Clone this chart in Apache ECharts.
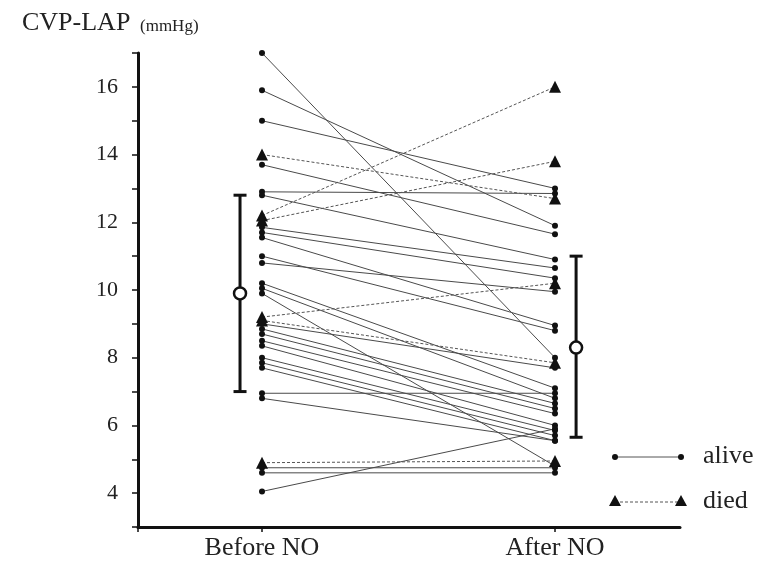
<!DOCTYPE html>
<html><head><meta charset="utf-8">
<script src="https://cdn.jsdelivr.net/npm/echarts@6/dist/echarts.min.js"></script>
<style>html,body{margin:0;padding:0;background:#fff}#c{width:762px;height:561px}</style>
</head><body><div id="c"></div>
<script>
// Categories
const categories = ['Before NO', 'After NO'];
// Patients who survived: [before, after]
const aliveBefore = [17.0, 15.9, 15.0, 13.7, 12.9, 12.8, 11.85, 11.7, 11.55, 11.0, 10.8, 10.2, 10.05, 9.9, 9.0, 8.85, 8.7, 8.5, 8.35, 8.0, 7.85, 7.7, 6.95, 6.8, 4.75, 4.6, 4.05];
const aliveAfter  = [8.0, 11.9, 13.0, 11.65, 12.85, 10.9, 10.65, 10.35, 8.95, 8.8, 9.95, 7.1, 6.8, 4.8, 7.7, 6.65, 6.5, 6.35, 6.0, 5.85, 5.7, 5.55, 6.95, 5.55, 4.75, 4.6, 5.9];
// Patients who died: [before, after]
const diedBefore = [14.0, 12.2, 12.05, 9.2, 9.1, 4.9];
const diedAfter  = [12.7, 16.0, 13.8, 10.2, 7.85, 4.95];
// Mean ± SD
const meanValues = [9.9, 8.3];
const sdLow = [7.0, 5.65];
const sdHigh = [12.8, 11.0];
// Y tick labels
const yTickLabels = [4, 6, 8, 10, 12, 14, 16];

const FONT = 'Liberation Serif';
const series = [];
aliveBefore.forEach((b, i) => {
  series.push({
    type: 'line', data: [[0, b], [1, aliveAfter[i]]],
    symbol: 'circle', symbolSize: 6, showSymbol: true,
    itemStyle: { color: '#111' },
    lineStyle: { color: '#4a4a4a', width: 1 },
    animation: false, silent: true, z: 2
  });
});
diedBefore.forEach((b, i) => {
  series.push({
    type: 'line', data: [[0, b], [1, diedAfter[i]]],
    symbol: 'triangle', symbolSize: 12, showSymbol: true,
    itemStyle: { color: '#111' },
    lineStyle: { color: '#555', width: 1, type: [3, 2] },
    animation: false, silent: true, z: 3
  });
});
const barX = [-0.075, 1.072];
[0, 1].forEach(k => {
  series.push({
    type: 'line', data: [[barX[k], sdLow[k]], [barX[k], sdHigh[k]]],
    symbol: 'rect', symbolSize: [13, 3], showSymbol: true,
    itemStyle: { color: '#111' },
    lineStyle: { color: '#111', width: 3 },
    animation: false, silent: true, z: 4
  });
});
series.push({
  type: 'scatter', data: [[barX[0], meanValues[0]], [barX[1], meanValues[1]]],
  symbol: 'circle', symbolSize: 12,
  itemStyle: { color: '#fff', borderColor: '#111', borderWidth: 2.5, opacity: 1 },
  animation: false, silent: true, z: 5
});

const chart = echarts.init(document.getElementById('c'), null, { renderer: 'canvas' });
chart.setOption({
  backgroundColor: '#fff',
  animation: false,
  grid: { left: 138, right: 82, top: 53, bottom: 34, containLabel: false, outerBoundsMode: 'none' },
  xAxis: {
    type: 'value', min: -124 / 293, max: 1 + 125 / 293,
    splitLine: { show: false },
    axisLine: { onZero: false, lineStyle: { color: '#111', width: 3 } },
    axisTick: { show: true, customValues: [-124 / 293, 0, 1], length: 5, lineStyle: { color: '#111', width: 1.5 } },
    axisLabel: {
      customValues: [0, 1], margin: 8,
      formatter: v => categories[Math.round(v)] || '',
      fontFamily: FONT, fontSize: 26, color: '#222'
    }
  },
  yAxis: {
    type: 'value', min: 3, max: 17, interval: 1,
    splitLine: { show: false },
    axisLine: { show: true, onZero: false, lineStyle: { color: '#111', width: 3 } },
    axisTick: { show: true, length: 6, lineStyle: { color: '#111', width: 1.5 } },
    axisLabel: {
      margin: 20,
      formatter: v => yTickLabels.indexOf(v) >= 0 ? String(v) : '',
      fontFamily: FONT, fontSize: 22, color: '#222'
    }
  },
  series: series,
  graphic: [
    { type: 'text', left: 22, top: 10, style: { text: 'CVP-LAP', font: '26px "Liberation Serif"', fill: '#222' } },
    { type: 'text', left: 140, top: 18, style: { text: '(mmHg)', font: '17px "Liberation Serif"', fill: '#222' } },
    { type: 'line', shape: { x1: 615, y1: 457, x2: 681, y2: 457 }, style: { stroke: '#555', lineWidth: 1 } },
    { type: 'circle', shape: { cx: 615, cy: 457, r: 3 }, style: { fill: '#111' } },
    { type: 'circle', shape: { cx: 681, cy: 457, r: 3 }, style: { fill: '#111' } },
    { type: 'text', left: 703, top: 443, style: { text: 'alive', font: '26px "Liberation Serif"', fill: '#222' } },
    { type: 'line', shape: { x1: 615, y1: 502, x2: 681, y2: 502 }, style: { stroke: '#555', lineWidth: 1, lineDash: [3, 2] } },
    { type: 'polygon', shape: { points: [[615, 495], [609, 506], [621, 506]] }, style: { fill: '#111' } },
    { type: 'polygon', shape: { points: [[681, 495], [675, 506], [687, 506]] }, style: { fill: '#111' } },
    { type: 'text', left: 703, top: 488, style: { text: 'died', font: '26px "Liberation Serif"', fill: '#222' } }
  ]
});
</script></body></html>
